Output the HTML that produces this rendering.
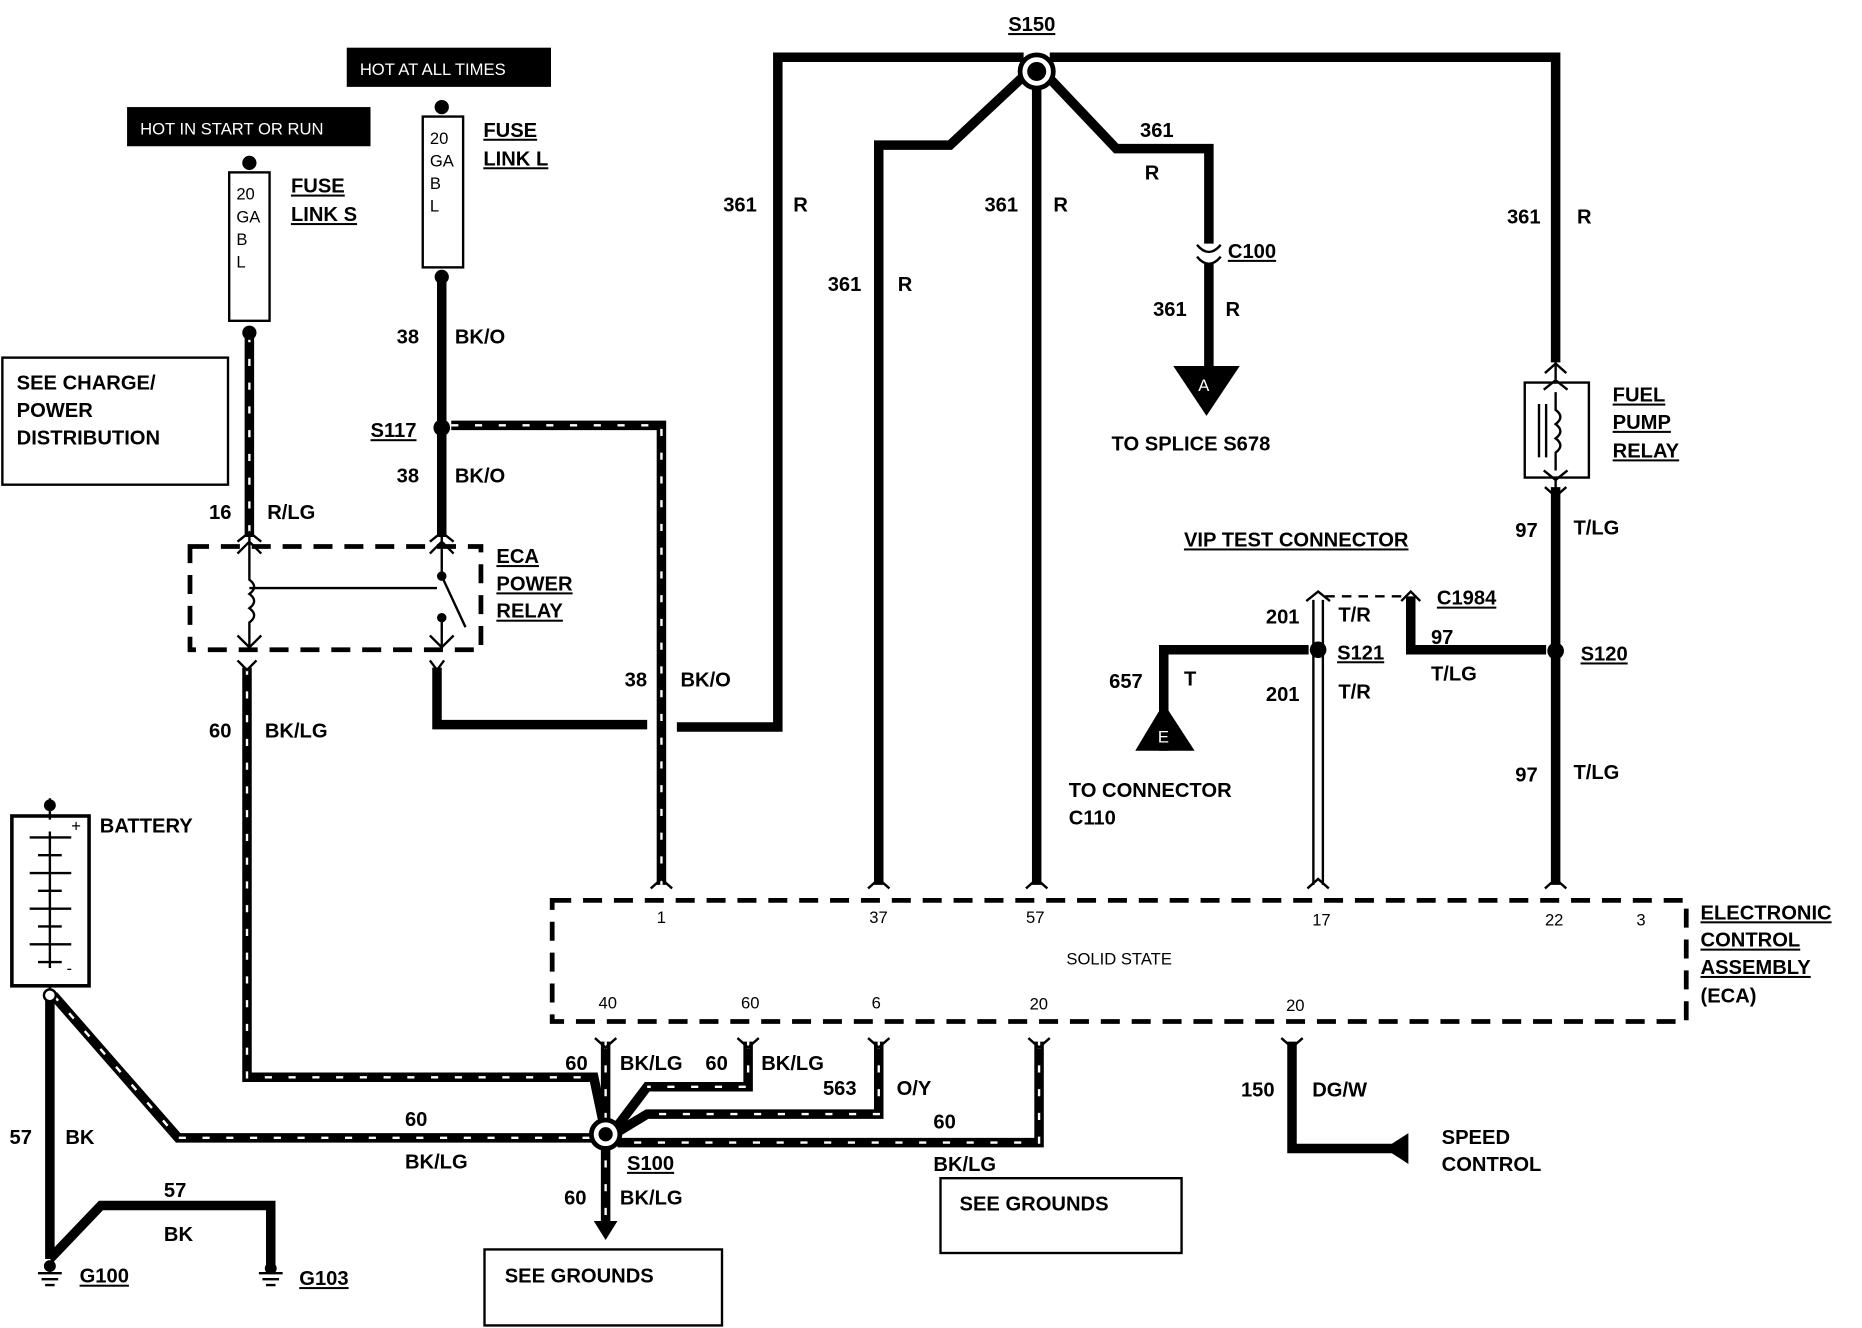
<!DOCTYPE html>
<html><head><meta charset="utf-8"><style>
html,body{margin:0;padding:0;background:#fff}
svg{display:block}
text{font-family:"Liberation Sans",sans-serif;font-weight:bold;fill:#000;font-size:17px}
.s{font-size:14px;font-weight:normal}
.w{stroke:#000;stroke-width:8;fill:none;stroke-linejoin:miter}
.dw{stroke:#fff;stroke-width:2;fill:none;stroke-dasharray:6 14}
.th{stroke:#000;stroke-width:2;fill:none}
.db{stroke:#000;stroke-width:4;fill:none;stroke-dasharray:16 10}
</style></head><body>
<svg width="1862" height="1328" viewBox="0 0 1568 1118" xmlns="http://www.w3.org/2000/svg">
<g class="w">
<path d="M368,562 V610 H545"/>
<path d="M570,612 H655 V48 H862"/>
<path d="M884,48 H1310 V305"/>
<path d="M740,745 V122 H800 L862,64"/>
<path d="M873,64 V745"/>
<path d="M884,66 L940,125 H1018 V205"/>
<path d="M1018,222 V310"/>
<path d="M372,233 V452"/>
<path d="M1310,410 V745"/>
<path d="M980,632 V547 H1102"/>
<path d="M1188,502 V547 H1302"/>
<path d="M1088,877 V967 H1172"/>
<path d="M42,842 V1060"/>
<path d="M42,1060 L85,1015 H228 V1065"/>
</g>
<g>
<path class="w" d="M210,282 V452"/><path class="dw" d="M210,282 V452"/>
<path class="w" d="M380,358 H557 V745"/><path class="dw" d="M380,358 H557 V745"/>
<path class="w" d="M208,562 V907 H500 L508,945"/><path class="dw" d="M208,562 V907 H500"/>
<path class="w" d="M45,838 L150,958 H500"/><path class="dw" d="M45,838 L150,958 H500"/>
<path class="w" d="M510,877 V1030"/><path class="dw" d="M510,877 V1030"/>
<path class="w" d="M630,877 V915 H545 L520,948"/><path class="dw" d="M630,877 V915 H545"/>
<path class="w" d="M740,877 V938 H545 L522,952"/><path class="dw" d="M740,877 V938 H545"/>
<path class="w" d="M875,877 V962 H520"/><path class="dw" d="M875,877 V962 H520"/>
</g>
<path d="M1106,505 V745 M1114,505 V745" class="th"/>
<path d="M1116,502 H1185" class="th" stroke-dasharray="8 6"/>
<circle cx="873" cy="60" r="14" fill="#fff" stroke="#000" stroke-width="4"/>
<circle cx="873" cy="60" r="8" fill="#000"/>
<circle cx="372" cy="360" r="7" fill="#000"/>
<circle cx="1110" cy="547" r="7" fill="#000"/>
<circle cx="1310" cy="548" r="7" fill="#000"/>
<circle cx="510" cy="955" r="12" fill="#fff" stroke="#000" stroke-width="4"/>
<circle cx="510" cy="955" r="6" fill="#000"/>
<polygon points="500,1028 520,1028 510,1044" fill="#000"/>
<rect x="193" y="145" width="34" height="125" fill="#fff" stroke="#000" stroke-width="2"/>
<circle cx="210" cy="137" r="6" fill="#000"/><circle cx="210" cy="280" r="6" fill="#000"/>
<rect x="356" y="98" width="34" height="127" fill="#fff" stroke="#000" stroke-width="2"/>
<circle cx="372" cy="90" r="6" fill="#000"/><circle cx="372" cy="233" r="6" fill="#000"/>
<rect x="107" y="90" width="205" height="33" fill="#000"/>
<text x="118" y="113" class="s" style="fill:#fff">HOT IN START OR RUN</text>
<rect x="292" y="40" width="172" height="33" fill="#000"/>
<text x="303" y="63" class="s" style="fill:#fff">HOT AT ALL TIMES</text>
<text x="199" y="168" class="s">20</text><text x="199" y="187" class="s">GA</text><text x="199" y="206" class="s">B</text><text x="199" y="225" class="s">L</text>
<text x="362" y="121" class="s">20</text><text x="362" y="140" class="s">GA</text><text x="362" y="159" class="s">B</text><text x="362" y="178" class="s">L</text>
<rect x="160" y="460" width="245" height="87" class="db"/>
<path d="M210,452 V472 M200,466 L210,456 L220,466 M210,472 V488 q8,6 0,12 q8,6 0,12 q8,6 0,12 V545 M200,535 L210,545 L220,535 M210,495 H368" class="th"/>
<path d="M372,452 V472 M362,466 L372,456 L382,466 M372,472 V485 L392,528 M372,520 V545 M362,535 L372,545 L382,535" class="th"/>
<circle cx="372" cy="485" r="4" fill="#000"/><circle cx="372" cy="520" r="4" fill="#000"/>
<path d="M362,556 L368,564 L374,556 M200,556 L208,564 L216,556" class="th" stroke-width="4"/>
<rect x="2" y="301" width="190" height="107" fill="#fff" stroke="#000" stroke-width="2"/>
<text x="14" y="328">SEE CHARGE/</text><text x="14" y="351">POWER</text><text x="14" y="374">DISTRIBUTION</text>
<rect x="10" y="687" width="65" height="143" fill="#fff" stroke="#000" stroke-width="3"/>
<path d="M42,672 V690 M42,830 V842" class="th" stroke-width="3"/>
<circle cx="42" cy="678" r="5" fill="#000"/><circle cx="42" cy="838" r="5" fill="#fff" stroke="#000" stroke-width="2"/>
<path d="M25,705 H60 M32,720 H52 M25,735 H60 M32,750 H52 M25,765 H60 M32,780 H52 M25,795 H60 M32,810 H52 M42,700 V815" class="th" stroke-width="2"/>
<text x="60" y="700" class="s">+</text><text x="56" y="820" class="s">-</text>
<text x="84" y="701">BATTERY</text>
<path d="M32,1072 H52 M35,1077 H49 M38,1082 H46 M218,1072 H238 M221,1077 H235 M224,1082 H232" class="th" stroke-width="3"/>
<circle cx="42" cy="1066" r="5" fill="#000"/><circle cx="228" cy="1068" r="5" fill="#000"/>
<text x="67" y="1080" text-decoration="underline">G100</text>
<text x="252" y="1082" text-decoration="underline">G103</text>
<path d="M1008,206 Q1018,218 1028,206 M1008,216 Q1018,228 1028,216" class="th" stroke-width="4"/>
<polygon points="988,308 1044,308 1016,350" fill="#000"/>
<text x="1009" y="329" style="fill:#fff" class="s">A</text>
<polygon points="980,592 956,632 1006,632" fill="#000"/>
<text x="975" y="625" style="fill:#fff" class="s">E</text>
<polygon points="1186,954 1186,980 1166,967" fill="#000"/>
<rect x="1284" y="322" width="54" height="80" fill="#fff" stroke="#000" stroke-width="2"/>
<path d="M1310,305 V322 M1310,402 V420 M1300,328 L1310,320 L1320,328 M1300,396 L1310,404 L1320,396 M1310,330 V345 q8,6 0,12 q8,6 0,12 q8,6 0,12 V396 M1296,340 V385 M1302,340 V385" class="th"/>
<rect x="465" y="758" width="955" height="102" class="db"/>
<g class="th" stroke-width="4">
<path d="M548,748 L557,740 L566,748 M731,748 L740,740 L749,748 M864,748 L873,740 L882,748 M1101,748 L1110,740 L1119,748 M1301,748 L1310,740 L1319,748"/>
<path d="M501,874 L510,882 L519,874 M621,874 L630,882 L639,874 M731,874 L740,882 L749,874 M866,874 L875,882 L884,874 M1079,874 L1088,882 L1097,874"/>
<path d="M1100,506 L1110,498 L1120,506 M1180,506 L1188,498 L1196,506 M200,456 L210,448 L220,456 M362,456 L372,448 L382,456 M1301,314 L1310,306 L1319,314 M1301,410 L1310,418 L1319,410"/>
</g>
<text x="245" y="162" text-decoration="underline">FUSE</text><text x="245" y="186" text-decoration="underline">LINK S</text>
<text x="407" y="115" text-decoration="underline">FUSE</text><text x="407" y="139" text-decoration="underline">LINK L</text>
<text x="334" y="289">38</text><text x="383" y="289">BK/O</text>
<text x="312" y="368" text-decoration="underline">S117</text>
<text x="334" y="406">38</text><text x="383" y="406">BK/O</text>
<text x="176" y="437">16</text><text x="225" y="437">R/LG</text>
<text x="418" y="474" text-decoration="underline">ECA</text><text x="418" y="497" text-decoration="underline">POWER</text><text x="418" y="520" text-decoration="underline">RELAY</text>
<text x="176" y="621">60</text><text x="223" y="621">BK/LG</text>
<text x="526" y="578">38</text><text x="573" y="578">BK/O</text>
<text x="849" y="26" text-decoration="underline">S150</text>
<text x="609" y="178">361</text><text x="668" y="178">R</text>
<text x="697" y="245">361</text><text x="756" y="245">R</text>
<text x="829" y="178">361</text><text x="887" y="178">R</text>
<text x="960" y="115">361</text><text x="964" y="151">R</text>
<text x="1034" y="217" text-decoration="underline">C100</text>
<text x="971" y="266">361</text><text x="1032" y="266">R</text>
<text x="936" y="379">TO SPLICE S678</text>
<text x="1269" y="188">361</text><text x="1328" y="188">R</text>
<text x="1358" y="338" text-decoration="underline">FUEL</text><text x="1358" y="361" text-decoration="underline">PUMP</text><text x="1358" y="385" text-decoration="underline">RELAY</text>
<text x="1276" y="452">97</text><text x="1325" y="450">T/LG</text>
<text x="997" y="460" text-decoration="underline">VIP TEST CONNECTOR</text>
<text x="1210" y="509" text-decoration="underline">C1984</text>
<text x="1066" y="525">201</text><text x="1127" y="523">T/R</text>
<text x="1205" y="542">97</text>
<text x="1126" y="555" text-decoration="underline">S121</text>
<text x="1331" y="556" text-decoration="underline">S120</text>
<text x="1205" y="573">T/LG</text>
<text x="934" y="579">657</text><text x="997" y="577">T</text>
<text x="1066" y="590">201</text><text x="1127" y="588">T/R</text>
<text x="1276" y="658">97</text><text x="1325" y="656">T/LG</text>
<text x="900" y="671">TO CONNECTOR</text><text x="900" y="694">C110</text>
<text x="553" y="777" class="s">1</text><text x="732" y="777" class="s">37</text><text x="864" y="777" class="s">57</text>
<text x="1105" y="779" class="s">17</text><text x="1301" y="779" class="s">22</text><text x="1378" y="779" class="s">3</text>
<text x="898" y="812" class="s">SOLID STATE</text>
<text x="504" y="849" class="s">40</text><text x="624" y="849" class="s">60</text><text x="734" y="849" class="s">6</text>
<text x="867" y="850" class="s">20</text><text x="1083" y="851" class="s">20</text>
<text x="1432" y="774" text-decoration="underline">ELECTRONIC</text><text x="1432" y="797" text-decoration="underline">CONTROL</text><text x="1432" y="820" text-decoration="underline">ASSEMBLY</text><text x="1432" y="844">(ECA)</text>
<text x="476" y="901">60</text><text x="522" y="901">BK/LG</text><text x="594" y="901">60</text><text x="641" y="901">BK/LG</text>
<text x="693" y="922">563</text><text x="755" y="922">O/Y</text>
<text x="1045" y="923">150</text><text x="1105" y="923">DG/W</text>
<text x="341" y="948">60</text><text x="786" y="950">60</text>
<text x="1214" y="963">SPEED</text><text x="1214" y="986">CONTROL</text>
<text x="8" y="963">57</text><text x="55" y="963">BK</text>
<text x="341" y="984">BK/LG</text>
<text x="528" y="985" text-decoration="underline">S100</text>
<text x="786" y="986">BK/LG</text>
<text x="138" y="1008">57</text><text x="138" y="1045">BK</text>
<text x="475" y="1014">60</text><text x="522" y="1014">BK/LG</text>
<rect x="792" y="992" width="203" height="63" fill="none" stroke="#000" stroke-width="2"/>
<text x="808" y="1019">SEE GROUNDS</text>
<rect x="408" y="1052" width="200" height="64" fill="none" stroke="#000" stroke-width="2"/>
<text x="425" y="1080">SEE GROUNDS</text>
</svg>
</body></html>
